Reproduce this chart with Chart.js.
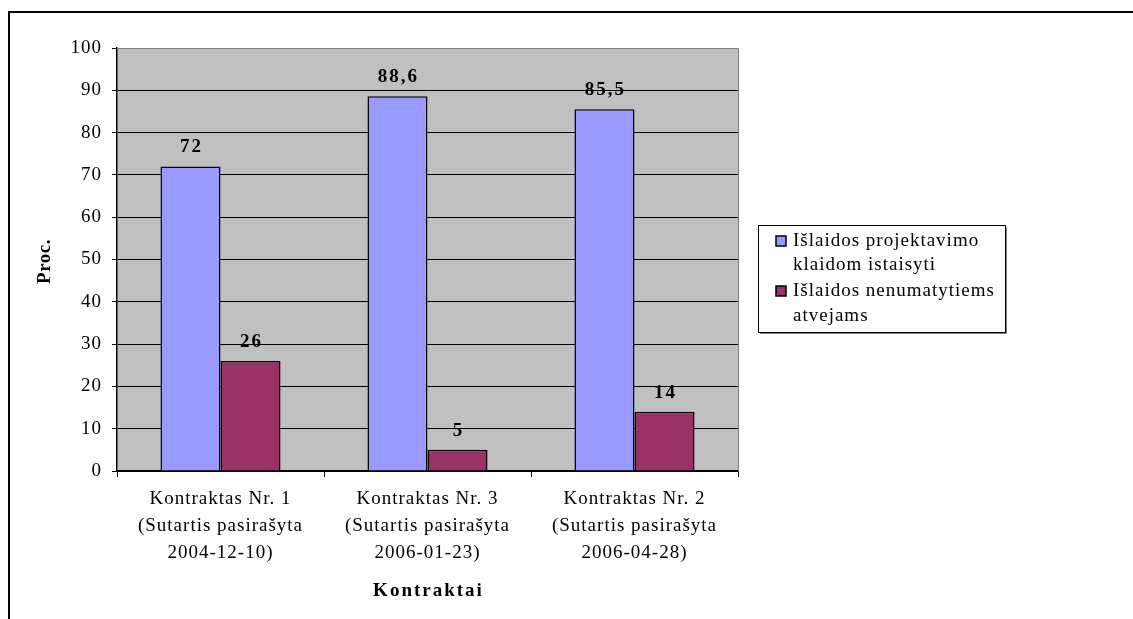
<!DOCTYPE html>
<html>
<head>
<meta charset="utf-8">
<script src="https://cdn.jsdelivr.net/npm/chart.js@4"></script>
<style>
  html, body { margin: 0; padding: 0; background: #fff; }
  #chart { display: block; }
</style>
</head>
<body>
<canvas id="chart" width="1133" height="619"></canvas>
<script>
const categories = [
  ['Kontraktas Nr. 1', '(Sutartis pasirašyta', '2004-12-10)'],
  ['Kontraktas Nr. 3', '(Sutartis pasirašyta', '2006-01-23)'],
  ['Kontraktas Nr. 2', '(Sutartis pasirašyta', '2006-04-28)'],
];
const seriesLines = [
  ['Išlaidos projektavimo', 'klaidom istaisyti'],
  ['Išlaidos nenumatytiems', 'atvejams'],
];
const projectErrors = [72, 88.6, 85.5];
const unforeseen = [26, 5, 14];
const yTicks = [0, 10, 20, 30, 40, 50, 60, 70, 80, 90, 100];
const xTitle = 'Kontraktai';
const yTitle = 'Proc.';

const FONT = 'Liberation Serif, Times New Roman, serif';
const colors = ['#9999ff', '#993366'];

// background, frame, titles, value labels and legend box
const extras = {
  id: 'extras',
  beforeDraw(chart) {
    const { ctx, chartArea: a } = chart;
    ctx.letterSpacing = '1px';
    ctx.save();
    ctx.fillStyle = '#c0c0c0';
    ctx.fillRect(a.left, a.top, a.right - a.left, a.bottom - a.top);
    ctx.restore();
  },
  afterDatasetsDraw(chart) {
    const { ctx, chartArea: a } = chart;
    ctx.save();
    // plot border top/right
    ctx.strokeStyle = '#808080';
    ctx.lineWidth = 1;
    ctx.beginPath();
    ctx.moveTo(a.left, a.top + 0.5);
    ctx.lineTo(a.right + 0.5, a.top + 0.5);
    ctx.lineTo(a.right + 0.5, a.bottom);
    ctx.stroke();

    // value labels
    ctx.letterSpacing = '2px';
    ctx.fillStyle = '#000';
    ctx.font = 'bold 19px ' + FONT;
    ctx.textAlign = 'center';
    ctx.textBaseline = 'middle';
    chart.data.datasets.forEach((ds, i) => {
      chart.getDatasetMeta(i).data.forEach((bar, j) => {
        ctx.fillText(String(ds.data[j]).replace('.', ','), bar.x + 1, bar.y - 19);
      });
    });

    // axis titles
    ctx.fillText(xTitle, (a.left + a.right) / 2 + 1, 591);
    ctx.save();
    ctx.letterSpacing = '0.5px';
    ctx.translate(45, (a.top + a.bottom) / 2 + 2);
    ctx.rotate(-Math.PI / 2);
    ctx.fillText(yTitle, 0, 0);
    ctx.restore();

    // outer frame (top + left)
    ctx.strokeStyle = '#000';
    ctx.lineWidth = 2;
    ctx.beginPath();
    ctx.moveTo(9, 640);
    ctx.lineTo(9, 12);
    ctx.lineTo(1133, 12);
    ctx.stroke();

    // legend
    ctx.letterSpacing = '1px';
    const lx = 758, ly = 225, lw = 247, lh = 107;
    ctx.fillStyle = '#fff';
    ctx.fillRect(lx, ly, lw, lh);
    ctx.strokeStyle = '#808080';
    ctx.lineWidth = 1;
    ctx.beginPath();
    ctx.moveTo(lx + lw + 1.5, ly + 2);
    ctx.lineTo(lx + lw + 1.5, ly + lh + 1.5);
    ctx.lineTo(lx + 2, ly + lh + 1.5);
    ctx.stroke();
    ctx.strokeStyle = '#000';
    ctx.strokeRect(lx + 0.5, ly + 0.5, lw, lh);

    ctx.font = '19px ' + FONT;
    ctx.textAlign = 'left';
    const lineY = [[241, 265], [291, 316]];
    seriesLines.forEach((lines, i) => {
      ctx.fillStyle = colors[i];
      ctx.fillRect(776, lineY[i][0] - 5, 10, 10);
      ctx.strokeStyle = '#000';
      ctx.lineWidth = 1.5;
      ctx.strokeRect(776, lineY[i][0] - 5, 10, 10);
      ctx.fillStyle = '#000';
      lines.forEach((t, k) => ctx.fillText(t, 793, lineY[i][k]));
    });
    ctx.restore();
  },
};

new Chart(document.getElementById('chart'), {
  type: 'bar',
  data: {
    labels: categories,
    datasets: [
      {
        label: seriesLines[0].join(' '),
        data: projectErrors,
        backgroundColor: colors[0],
        borderColor: '#000',
        borderWidth: 1.5,
      },
      {
        label: seriesLines[1].join(' '),
        data: unforeseen,
        backgroundColor: colors[1],
        borderColor: '#000',
        borderWidth: 1.5,
      },
    ],
  },
  options: {
    responsive: false,
    animation: false,
    layout: { padding: { left: 30, top: 48, right: 395, bottom: 13 } },
    plugins: { legend: { display: false }, tooltip: { enabled: false } },
    datasets: { bar: { categoryPercentage: 0.58, barPercentage: 1 } },
    scales: {
      x: {
        afterFit(s) { s.height = 135; },
        grid: {
          offset: true,
          drawOnChartArea: false,
          tickLength: 6,
          color: '#000',
        },
        border: { color: '#000', width: 1.5 },
        ticks: {
          color: '#000',
          padding: 9,
          maxRotation: 0,
          font: { family: FONT, size: 19, lineHeight: 1.42 },
        },
      },
      y: {
        min: 0,
        max: 100,
        afterFit(s) { s.width = 87; },
        afterBuildTicks(s) { s.ticks = yTicks.map((v) => ({ value: v })); },
        grid: {
          color: (c) => (c.tick && c.tick.value === 100 ? '#808080' : '#000'),
          tickColor: '#000',
          tickLength: 5,
        },
        border: { color: '#000', width: 1.5 },
        ticks: {
          color: '#000',
          padding: 10,
          font: { family: FONT, size: 19 },
        },
      },
    },
  },
  plugins: [extras],
});
</script>
</body>
</html>
